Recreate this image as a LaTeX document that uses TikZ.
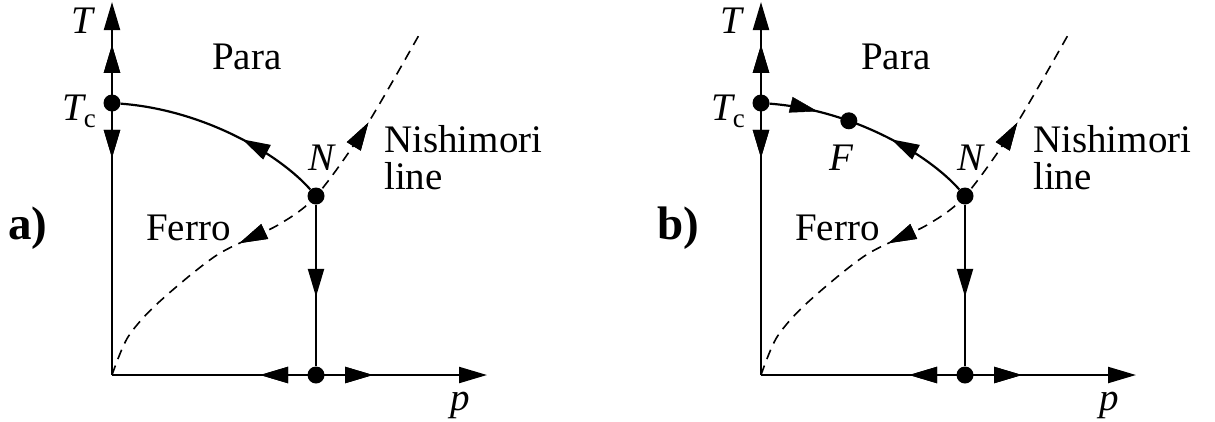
\documentclass[tikz,border=0pt]{standalone}
\usepackage{fontspec}
\setmainfont{Liberation Serif}
\usetikzlibrary{arrows.meta,decorations.markings}
\tikzset{
  ah/.tip={Triangle[length=28pt,width=16pt]},
  dot/.style={circle,fill=black,inner sep=0pt,minimum size=17pt},
  solidline/.style={line width=2.2pt},
  nishline/.style={line width=1.6pt,dash pattern=on 10pt off 7pt},
  lab/.style={inner sep=0pt,font=\fontsize{39}{34}\selectfont},
  panellab/.style={inner sep=0pt,font=\fontsize{47}{50}\selectfont\bfseries},
  markfwd/.style={postaction={decorate},decoration={markings,mark=at position #1 with {\arrow{ah}}}},
  markrev/.style={postaction={decorate},decoration={markings,mark=at position #1 with {\arrowreversed{ah}}}},
}
\newcommand\phasepanel[2]{%
  \coordinate (#1O) at (112,375);
  \coordinate (#1Tend) at (112,2);
  \coordinate (#1pend) at (487,375);
  \node[dot] (#1Tc) at (112,103) {};
  \node[dot] (#1N) at (316,196) {};
  \node[dot] (#1B) at (316,375) {};
  % axes
  \draw[solidline,-ah,markfwd=0.885,markrev=0.582] (#1O) -- (#1Tend);
  \draw[solidline,-ah,markrev=0.395,markfwd=0.696] (#1O) -- (#1pend);
  % flow N -> B
  \draw[solidline,markfwd=0.57] (#1N) -- (#1B);
  % critical line N -> Tc
  \draw[solidline,markfwd=0.40] (#1N) .. controls (280,155) and (205,110) .. (#1Tc);
  % Nishimori line
  \draw[nishline,markrev=0.40,markfwd=0.785] plot[smooth] coordinates
    {(112,375) (128,337) (158,303) (217,255) (278,225) (316,196) (365,128) (419,35)};
  % labels
  \node[lab,anchor=base west] (#1Tlab) at (71,33) {\itshape T};
  \node[lab,anchor=base east] (#1Tclab) at (96,120) {{\itshape T}\raisebox{-7pt}{\fontsize{27}{27}\selectfont c}};
  \node[lab,anchor=base west] (#1para) at (212,69) {Para};
  \node[lab,anchor=base west] (#1nish) at (384,152) {Nishimori};
  \node[lab,anchor=base west] (#1line) at (384,189) {line};
  \node[lab,anchor=base west] (#1ferro) at (146,240) {Ferro};
  \node[lab,anchor=base west] (#1Nlab) at (308,170) {\itshape N};
  \node[lab,anchor=base west] (#1plab) at (450,410) {\itshape p};
  \node[panellab,anchor=base west] (#1panel) at (8,239) {#2};
}
\begin{document}
\begin{tikzpicture}[x=1pt,y=-1pt]
  \useasboundingbox (0,0) rectangle (1215,421);
  \phasepanel{a}{a)}
  \begin{scope}[xshift=649pt]
    \phasepanel{b}{b)}
    % flow from Tc towards the fixed point F, on the same critical line
    \path[markrev=0.77] (bN) .. controls (280,155) and (205,110) .. (bTc)
      node[dot,pos=0.67] (bF) {};
    \node[lab,anchor=base west] (bFlab) at (180,170) {\itshape F};
  \end{scope}
\end{tikzpicture}
\end{document}
